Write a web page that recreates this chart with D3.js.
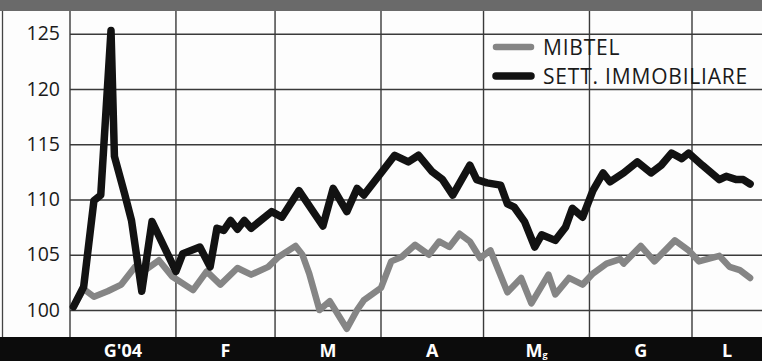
<!DOCTYPE html>
<html>
<head>
<meta charset="utf-8">
<script src="https://cdn.jsdelivr.net/npm/d3@7"></script>
<style>
  html, body { margin: 0; padding: 0; background: #fff; }
  svg { display: block; }
  text { font-family: "Open Sans", "Noto Sans", sans-serif; }
</style>
</head>
<body>
<div id="chart"></div>
<script>
// Month labels shown in the bottom band (Italian initials)
const monthLabels = ["G'04", "F", "M", "A", "Mg", "G", "L"];
const yTicks = [100, 105, 110, 115, 120, 125];

// SETT. IMMOBILIARE (real-estate sector index, base 100)
const immoDates = ["2004-01-02","2004-01-05","2004-01-08","2004-01-10","2004-01-13","2004-01-14","2004-01-17","2004-01-19","2004-01-22","2004-01-25",
  "2004-02-01","2004-02-03","2004-02-08","2004-02-11","2004-02-13","2004-02-15","2004-02-17","2004-02-19","2004-02-21","2004-02-23","2004-02-29",
  "2004-03-03","2004-03-08","2004-03-15","2004-03-18","2004-03-22","2004-03-25","2004-03-27",
  "2004-04-01","2004-04-05","2004-04-09","2004-04-12","2004-04-16","2004-04-19","2004-04-22","2004-04-27","2004-04-29",
  "2004-05-02","2004-05-06","2004-05-08","2004-05-10","2004-05-13","2004-05-16","2004-05-18","2004-05-22","2004-05-25","2004-05-27","2004-05-30",
  "2004-06-02","2004-06-05","2004-06-07","2004-06-11","2004-06-15","2004-06-19","2004-06-22","2004-06-25","2004-06-28","2004-06-30",
  "2004-07-04","2004-07-09","2004-07-11","2004-07-14","2004-07-16","2004-07-18"];
const immoValues = [100.3,102.1,109.9,110.4,125.3,113.9,110.5,108.1,101.7,108.0,
  103.5,105.1,105.7,103.9,107.4,107.2,108.1,107.3,108.1,107.4,108.9,
  108.4,110.8,107.6,111.0,108.9,111.0,110.4,
  112.4,114.0,113.4,114.0,112.5,111.8,110.4,113.1,111.8,
  111.5,111.3,109.6,109.3,108.0,105.7,106.8,106.3,107.5,109.2,108.4,
  110.8,112.4,111.6,112.4,113.4,112.4,113.1,114.2,113.7,114.2,
  113.1,111.8,112.1,111.8,111.8,111.4];

// MIBTEL (general market index, base 100)
const mibDates = ["2004-01-02","2004-01-05","2004-01-08","2004-01-12","2004-01-16","2004-01-20","2004-01-23","2004-01-27","2004-01-31",
  "2004-02-06","2004-02-10","2004-02-14","2004-02-19","2004-02-23","2004-02-28",
  "2004-03-02","2004-03-07","2004-03-09","2004-03-11","2004-03-14","2004-03-17","2004-03-22","2004-03-25","2004-03-27",
  "2004-04-01","2004-04-04","2004-04-07","2004-04-11","2004-04-15","2004-04-18","2004-04-21","2004-04-24","2004-04-27","2004-04-30",
  "2004-05-03","2004-05-08","2004-05-12","2004-05-15","2004-05-20","2004-05-22","2004-05-26","2004-05-30",
  "2004-06-02","2004-06-06","2004-06-10","2004-06-11","2004-06-16","2004-06-20","2004-06-26","2004-06-30",
  "2004-07-03","2004-07-09","2004-07-12","2004-07-15","2004-07-18"];
const mibValues = [100.3,101.9,101.2,101.7,102.3,103.9,103.6,104.5,103.0,
  101.8,103.5,102.3,103.8,103.2,103.9,
  104.8,105.8,105.0,103.3,100.0,100.8,98.3,100.0,100.9,
  102.0,104.4,104.8,105.9,105.0,106.2,105.7,106.9,106.2,104.7,
  105.4,101.6,102.9,100.6,103.2,101.4,102.9,102.3,
  103.3,104.2,104.6,104.2,105.8,104.4,106.3,105.4,
  104.4,104.9,103.9,103.6,102.9];

const seriesNames = ["MIBTEL", "SETT. IMMOBILIARE"];

const W = 762, H = 361;
const topBand = 11, bottomBand = 24;
const plotLeft = 70, plotRight = W;
const plotTop = topBand, plotBottom = H - bottomBand;

const parse = d3.utcParse("%Y-%m-%d");
const mib = mibDates.map((d, i) => ({ date: parse(d), value: mibValues[i] }));
const immo = immoDates.map((d, i) => ({ date: parse(d), value: immoValues[i] }));

const start = parse("2004-01-01"), julyStart = parse("2004-07-01");
const x = d3.scaleUtc().domain([start, julyStart]).range([plotLeft, 692]);
const y = d3.scaleLinear().domain([100, 125]).range([310, 33.7]);

const svg = d3.select("#chart").append("svg").attr("width", W).attr("height", H);

// paper background
svg.append("rect").attr("width", W).attr("height", H).attr("fill", "#fdfdfd");

// top grey band
svg.append("rect").attr("x", 0).attr("y", 0).attr("width", W).attr("height", topBand).attr("fill", "#6a6a6a");

// outer left rule
svg.append("line").attr("x1", 2.5).attr("x2", 2.5).attr("y1", plotTop).attr("y2", plotBottom)
  .attr("stroke", "#444").attr("stroke-width", 1.3);

// horizontal grid + y labels
const yAxis = svg.append("g").attr("transform", `translate(${plotLeft},0)`)
  .call(d3.axisLeft(y).tickValues(yTicks).tickSize(-(plotRight - plotLeft)).tickPadding(10).tickFormat(d3.format("d")));
yAxis.select(".domain").remove();
yAxis.selectAll(".tick line").attr("stroke", "#3a3a3a").attr("stroke-width", 1.4);
yAxis.selectAll(".tick text").attr("fill", "#1a1a1a").attr("font-size", 19.5)
  .attr("font-family", "'Open Sans', 'Noto Sans', sans-serif");

// vertical month grid
const months = d3.utcMonths(start, parse("2004-08-01"));
svg.append("g").selectAll("line").data(months).join("line")
  .attr("x1", d => x(d)).attr("x2", d => x(d))
  .attr("y1", plotTop).attr("y2", plotBottom)
  .attr("stroke", "#3a3a3a").attr("stroke-width", 1.4);

// series lines
const line = d3.line().x(d => x(d.date)).y(d => y(d.value));
svg.append("path").datum(mib).attr("d", line)
  .attr("fill", "none").attr("stroke", "#858585").attr("stroke-width", 6.5)
  .attr("stroke-linejoin", "round").attr("stroke-linecap", "round");
svg.append("path").datum(immo).attr("d", line)
  .attr("fill", "none").attr("stroke", "#121212").attr("stroke-width", 7.5)
  .attr("stroke-linejoin", "round").attr("stroke-linecap", "round");

// legend
const legend = svg.append("g");
const legendColors = ["#858585", "#121212"];
const legendWidths = [6.5, 7.5];
seriesNames.forEach((name, i) => {
  const ly = 47 + i * 29;
  legend.append("line").attr("x1", 496).attr("x2", 531).attr("y1", ly).attr("y2", ly)
    .attr("stroke", legendColors[i]).attr("stroke-width", legendWidths[i]).attr("stroke-linecap", "round");
  legend.append("text").attr("x", 543).attr("y", ly + 8)
    .attr("font-size", 21).attr("letter-spacing", 0.8).attr("fill", "#1a1a1a").text(name);
});

// bottom black band with month labels
svg.append("rect").attr("x", 0).attr("y", plotBottom).attr("width", W).attr("height", bottomBand).attr("fill", "#0c0c0c");
const labelG = svg.append("g");
months.forEach((m, i) => {
  const next = d3.utcMonth.offset(m, 1);
  const cx = (x(m) + Math.min(x(next), plotRight)) / 2;
  const label = monthLabels[i];
  const main = label.replace(/[a-z]+$/, "");
  const suffix = label.slice(main.length);
  const t = labelG.append("text").attr("x", cx).attr("y", H - 4)
    .attr("text-anchor", "middle").attr("fill", "#fff")
    .attr("font-size", 18).attr("font-weight", 700);
  t.append("tspan").text(main);
  if (suffix) t.append("tspan").attr("font-size", 9).attr("dy", 1).text(suffix);
});
</script>
</body>
</html>
